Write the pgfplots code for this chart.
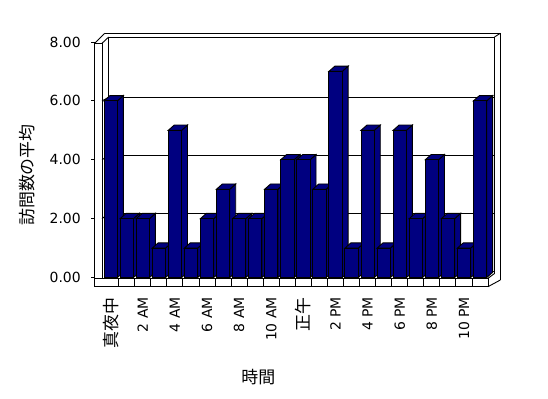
\documentclass[border=0pt]{standalone}
\usepackage{pgfplots}
\usepackage{pgfplotstable}
\pgfplotsset{compat=1.18}
\usepackage{fontspec}
\setmainfont{DejaVu Sans}
\newfontfamily\jp{Noto Sans CJK JP}
\definecolor{navy}{RGB}{0,0,128}
\newcommand{\lt}{\fontsize{14}{16}\selectfont}
\newcommand{\jt}{\jp\fontsize{17}{19}\selectfont}

\pgfplotstableread{
h v
0 6
1 2
2 2
3 1
4 5
5 1
6 2
7 3
8 2
9 2
10 3
11 4
12 4
13 3
14 7
15 1
16 5
17 1
18 5
19 2
20 4
21 2
22 1
23 6
}\visits

% a 3D bar drawn at the data point (top centre of the front face)
\pgfdeclareplotmark{cuboid}{%
  \pgfmathsetlengthmacro\hh{\barval*29.45bp}%
  % side face
  \pgfpathmoveto{\pgfqpoint{6.65bp}{0bp}}%
  \pgfpathlineto{\pgfqpoint{12.65bp}{5.3bp}}%
  \pgfpathlineto{\pgfpoint{12.65bp}{5.3bp-\hh}}%
  \pgfpathlineto{\pgfpoint{6.65bp}{-\hh}}%
  \pgfpathclose
  \pgfusepathqfillstroke
  % top face
  \pgfpathmoveto{\pgfqpoint{-6.65bp}{0bp}}%
  \pgfpathlineto{\pgfqpoint{6.65bp}{0bp}}%
  \pgfpathlineto{\pgfqpoint{12.65bp}{5.3bp}}%
  \pgfpathlineto{\pgfqpoint{-0.65bp}{5.3bp}}%
  \pgfpathclose
  \pgfusepathqfillstroke
  % front face
  \pgfpathrectanglecorners{\pgfpoint{-6.65bp}{-\hh}}{\pgfqpoint{6.65bp}{0bp}}%
  \pgfusepathqfillstroke
}

\begin{document}
\begin{tikzpicture}[x=1bp,y=1bp]
\useasboundingbox (0,0) rectangle (548,398);
% ---- chart frame (walls and floor) ----
\begin{scope}[line width=0.9bp, black]
  % back wall gridlines
  \draw (108.7,184.7) -- (494.5,184.7);
  \draw (108.7,242.7) -- (494.5,242.7);
  \draw (108.7,300.7) -- (494.5,300.7);
  % gridlines on left wall inner face
  \draw (102,179.3) -- (108.7,184.7);
  \draw (102,238.2) -- (108.7,242.7);
  \draw (102,297.1) -- (108.7,300.7);
  % back wall
  \draw (108.7,126.4) -- (108.7,361) -- (494.5,361) -- (494.5,124.5);
  \draw (108.7,126.4) -- (494.5,126.4);
  \draw (104.7,364.7) -- (500.3,364.7) -- (500.3,118);
  \draw (494.5,361) -- (500.3,364.7);
  % left wall
  \draw (94.7,111.3) -- (94.7,354.7) -- (102,354.7) -- (102,119.7);
  \draw (94.7,354.7) -- (104.7,364.7);
  \draw (102,354.7) -- (108.7,361);
  % floor
  \draw (94.7,119.7) -- (488,119.7) -- (488,111.3) -- (94.7,111.3);
  \draw (488,119.7) -- (494.5,124.5);
  \draw (488,111.3) -- (500.3,118);
  \foreach \k in {0,...,22} {
    \draw ({118.65+16.06*\k},111.3) -- ({118.65+16.06*\k},119.7);
  }
\end{scope}
\begin{axis}[
  at={(110.65bp,120.4bp)}, anchor=origin,
  x=16.06bp, y=29.45bp,
  xmin=-0.993, xmax=23.51, ymin=-0.32, ymax=8,
  clip=false,
  axis line style={draw=none},
  tick align=outside,
  major tick length=3.5bp,
  ytick={0,2,4,6,8},
  ytick pos=left,
  ytick style={black, line width=0.9bp},
  xtick={0,2,...,22},
  xtick pos=left,
  xtick style={draw=none},
  xticklabels={{\jt 真夜中},{\lt 2 AM},{\lt 4 AM},{\lt 6 AM},{\lt 8 AM},{\lt 10 AM},{\jt 正午},{\lt 2 PM},{\lt 4 PM},{\lt 6 PM},{\lt 8 PM},{\lt 10 PM}},
  /pgf/number format/assume math mode=true,
  yticklabel={\lt\pgfmathprintnumber[fixed,fixed zerofill,precision=2,assume math mode=true]{\tick}},
  yticklabel style={anchor=east, inner sep=0pt},
  yticklabel shift=10.3bp,
  xticklabel style={rotate=90, anchor=east, inner sep=0pt},
  xticklabel shift=6.5bp,
]
\addplot[only marks, mark=cuboid,
  visualization depends on={\thisrow{v} \as \barval},
  mark options={solid, draw=black, fill=navy, line width=0.9bp, line join=miter}]
  table[x=h, y=v] {\visits};
\end{axis}
\node[rotate=90, font=\jt, inner sep=0pt] at (26.7,223) {訪問数の平均};
\node[font=\jt, inner sep=0pt] at (258.3,20.5) {時間};
\end{tikzpicture}
\end{document}
